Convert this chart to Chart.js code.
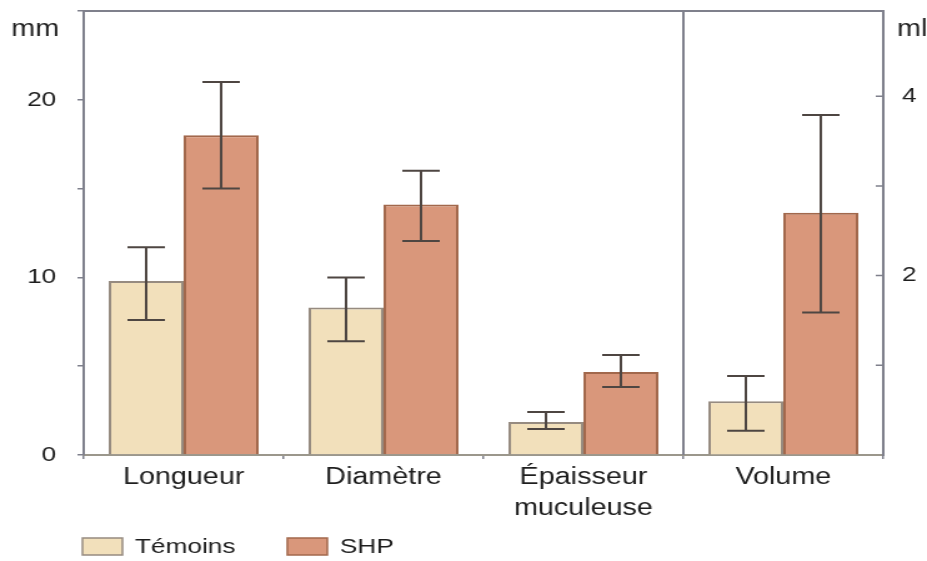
<!DOCTYPE html>
<html>
<head>
<meta charset="utf-8">
<script src="https://cdn.jsdelivr.net/npm/chart.js@4/dist/chart.umd.min.js"></script>
<style>
  html, body { margin: 0; padding: 0; background: #fff; overflow: hidden; }
  #wrap { width: 742px; height: 561px; transform: scaleX(1.2493); transform-origin: 0 0; }
</style>
</head>
<body>
<div id="wrap"><canvas id="c" width="742" height="561"></canvas></div>
<script>
// Measurements per category: the first three in mm (left axis), Volume in ml (right axis)
const categories = ['Longueur', 'Diamètre', ['Épaisseur', 'muculeuse'], 'Volume'];
const unitOf = ['mm', 'mm', 'mm', 'ml'];
const seriesNames = ['Témoins', 'SHP'];

const temoins     = [9.8, 8.3, 1.86, 0.60];
const temoinsLow  = [7.6, 6.4, 1.46, 0.27];
const temoinsHigh = [11.7, 10.0, 2.42, 0.88];

const shp     = [18.0, 14.1, 4.67, 2.70];
const shpLow  = [15.0, 12.05, 3.83, 1.59];
const shpHigh = [21.0, 16.0, 5.63, 3.79];

const mmLabels = [0, 10, 20];
const mlLabels = [2, 4];

const FONT = 'Liberation Sans, Arial, sans-serif';
const TEXT = '#1e1e1e';
const AXIS = '#7f808c';
const fills = ['#f2e0bb', '#d9977b'];
const edges = ['#968b80', '#a2684c'];
const errorRanges = [[temoinsLow, temoinsHigh], [shpLow, shpHigh]];

const only = (values, unit) => values.map((v, i) => unitOf[i] === unit ? v : null);

function series(idx, values, unit) {
  return {
    label: seriesNames[idx],
    data: only(values, unit),
    yAxisID: unit === 'mm' ? 'y' : 'y2',
    stack: 's' + idx,
    seriesIndex: idx,
    backgroundColor: fills[idx],
    borderColor: edges[idx],
    borderWidth: 2,
    categoryPercentage: 0.75,
    barPercentage: 1.0
  };
}

// keep the plot frame exactly where the axes put it
function noEdgePadding(s) {
  s.paddingTop = 0; s.paddingBottom = 0; s.paddingLeft = 0; s.paddingRight = 0;
}

// Error bars, frame, divider, inward ticks on the ml axis, unit captions, legend
const decorations = {
  id: 'decorations',
  afterDatasetsDraw(chart) {
    const ctx = chart.ctx;
    const area = chart.chartArea;
    const xs = chart.scales.x;
    ctx.save();

    // error bars
    ctx.strokeStyle = '#4e4642';
    ctx.lineWidth = 2;
    chart.data.datasets.forEach((ds, di) => {
      const meta = chart.getDatasetMeta(di);
      const scale = chart.scales[ds.yAxisID];
      const [low, high] = errorRanges[ds.seriesIndex];
      meta.data.forEach((bar, j) => {
        if (ds.data[j] === null) return;
        const x = bar.x;
        const y1 = scale.getPixelForValue(low[j]);
        const y2 = scale.getPixelForValue(high[j]);
        const cap = 15;
        ctx.beginPath();
        ctx.moveTo(x, y1); ctx.lineTo(x, y2);
        ctx.moveTo(x - cap, y1); ctx.lineTo(x + cap, y1);
        ctx.moveTo(x - cap, y2); ctx.lineTo(x + cap, y2);
        ctx.stroke();
      });
    });

    // top border and divider between mm and ml groups
    ctx.strokeStyle = AXIS;
    ctx.lineWidth = 2;
    const xDiv = (xs.getPixelForValue(2) + xs.getPixelForValue(3)) / 2;
    ctx.beginPath();
    ctx.moveTo(area.left, area.top); ctx.lineTo(area.right, area.top);
    ctx.moveTo(xDiv, area.top); ctx.lineTo(xDiv, area.bottom);
    ctx.stroke();

    // inward tick marks on the ml axis
    const r = chart.scales.y2;
    ctx.lineWidth = 1.5;
    ctx.beginPath();
    r.ticks.forEach(t => {
      if (!Number.isInteger(t.value) || t.value === 0) return;
      const y = r.getPixelForValue(t.value);
      ctx.moveTo(area.right - 6, y); ctx.lineTo(area.right, y);
    });
    ctx.stroke();

    // unit captions
    ctx.fillStyle = TEXT;
    ctx.font = '23px ' + FONT;
    ctx.textBaseline = 'middle';
    ctx.textAlign = 'left';
    ctx.fillText('mm', 9, 30);
    ctx.fillText('ml', 718, 30);

    // legend
    ctx.font = '21px ' + FONT;
    const boxes = [66, 230];
    seriesNames.forEach((name, i) => {
      const bx = boxes[i];
      ctx.fillStyle = fills[i];
      ctx.fillRect(bx, 538, 32, 17);
      ctx.strokeStyle = edges[i];
      ctx.lineWidth = 1.5;
      ctx.strokeRect(bx, 538, 32, 17);
      ctx.fillStyle = TEXT;
      ctx.fillText(name, bx + 42, 547);
    });
    ctx.restore();
  }
};

new Chart(document.getElementById('c'), {
  type: 'bar',
  data: {
    labels: categories,
    datasets: [
      series(0, temoins, 'mm'),
      series(1, shp, 'mm'),
      series(0, temoins, 'ml'),
      series(1, shp, 'ml')
    ]
  },
  options: {
    responsive: false,
    animation: false,
    layout: { padding: { top: 11, left: 0, right: 0, bottom: 0 } },
    plugins: { legend: { display: false }, tooltip: { enabled: false } },
    scales: {
      x: {
        stacked: true,
        offset: true,
        grid: { drawOnChartArea: false, tickLength: 4, color: AXIS, lineWidth: 1.5 },
        border: { color: '#9b978c', width: 2 },
        ticks: {
          color: TEXT, autoSkip: false, maxRotation: 0, padding: 3,
          font: { family: FONT, size: 23, lineHeight: 1.35 }
        },
        afterFit(s) { s.height = 106; noEdgePadding(s); }
      },
      y: {
        position: 'left',
        stacked: true,
        min: 0, max: 25,
        grid: { drawOnChartArea: false, tickLength: 5, color: AXIS, lineWidth: 1.5 },
        border: { color: AXIS, width: 2 },
        ticks: {
          stepSize: 5, padding: 17, color: TEXT,
          font: { family: FONT, size: 21 },
          callback: v => mmLabels.includes(v) ? String(v) : ''
        },
        afterFit(s) { s.width = 67; noEdgePadding(s); }
      },
      y2: {
        position: 'right',
        stacked: true,
        min: 0, max: 4.95,
        grid: { drawOnChartArea: false, drawTicks: false },
        border: { color: AXIS, width: 2 },
        ticks: {
          stepSize: 1, padding: 15, color: TEXT,
          font: { family: FONT, size: 21 },
          callback: v => mlLabels.includes(v) ? String(v) : ''
        },
        afterFit(s) { s.width = 35; noEdgePadding(s); }
      }
    }
  },
  plugins: [decorations]
});
</script>
</body>
</html>
